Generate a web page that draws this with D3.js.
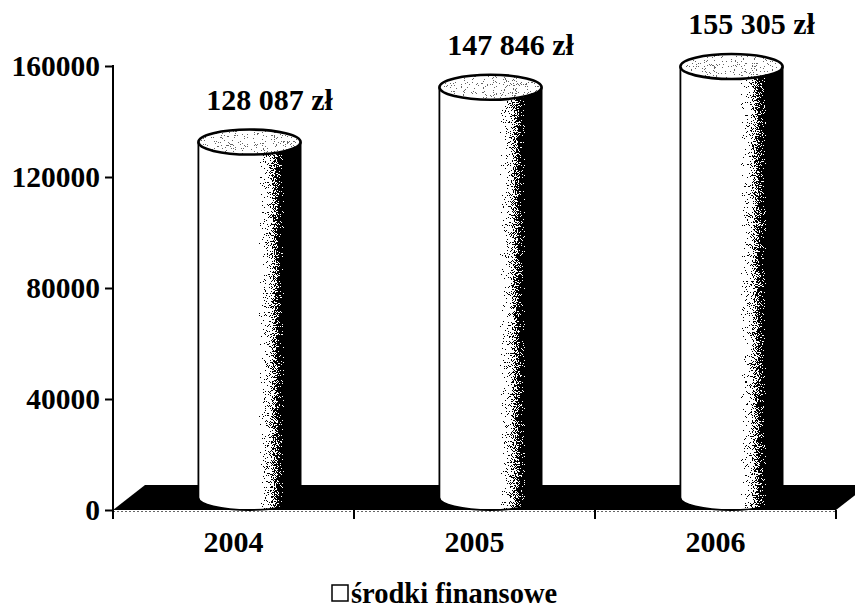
<!DOCTYPE html>
<html>
<head>
<meta charset="utf-8">
<script src="https://cdn.jsdelivr.net/npm/d3@7"></script>
<style>
  html, body { margin: 0; padding: 0; background: #fff; }
  svg { display: block; }
  text { font-family: "Liberation Serif", "Times New Roman", serif; font-weight: bold; fill: #000; }
</style>
</head>
<body>
<script>
// Funds per year (PLN)
const years = ["2004", "2005", "2006"];
const amounts = [128087, 147846, 155305];
const amountLabels = ["128 087 zł", "147 846 zł", "155 305 zł"];
const yTicks = [0, 40000, 80000, 120000, 160000];
const legendLabel = "środki finansowe";

const W = 855, H = 608;
const plot = { left: 113, right: 836, base: 510, top: 66 };
const depth = { dx: 32, dy: -25 };   // oblique depth of the floor

const svg = d3.select("body").append("svg")
  .attr("width", W).attr("height", H);

const x = d3.scaleBand().domain(years).range([plot.left, plot.right]).padding(0);
const y = d3.scaleLinear().domain([0, 160000]).range([plot.base, plot.top]);

const rx = x.bandwidth() * 0.212;
const ry = -depth.dy / 2;

// ---- defs: side shading + stipple filter
const defs = svg.append("defs");

const side = defs.append("linearGradient").attr("id", "side")
  .attr("x1", 0).attr("y1", 0).attr("x2", 1).attr("y2", 0);
[[0, "#fff"], [0.56, "#fff"], [0.63, "#e6e6e6"], [0.71, "#a9a9a9"], [0.78, "#555"],
 [0.85, "#000"], [1, "#000"]]
  .forEach(([o, c]) => side.append("stop").attr("offset", o).attr("stop-color", c));

const lid = defs.append("linearGradient").attr("id", "lid")
  .attr("x1", 0).attr("y1", 0).attr("x2", 1).attr("y2", 0);
[[0, "#d8d8d8"], [0.6, "#d2d2d2"], [1, "#c6c6c6"]]
  .forEach(([o, c]) => lid.append("stop").attr("offset", o).attr("stop-color", c));

function stippleFilter(id, seed) {
  const f = defs.append("filter").attr("id", id)
    .attr("x", 0).attr("y", 0).attr("width", 1).attr("height", 1)
    .attr("color-interpolation-filters", "sRGB");
  f.append("feTurbulence").attr("type", "fractalNoise")
    .attr("baseFrequency", 1.1).attr("numOctaves", 2).attr("seed", seed).attr("result", "n");
  f.append("feColorMatrix").attr("in", "n").attr("type", "matrix")
    .attr("values", "1 0 0 0 0  1 0 0 0 0  1 0 0 0 0  0 0 0 0 1").attr("result", "ng");
  const st = f.append("feComponentTransfer").attr("in", "ng").attr("result", "ns");
  ["feFuncR", "feFuncG", "feFuncB"].forEach(fn =>
    st.append(fn).attr("type", "linear").attr("slope", 2.2).attr("intercept", -0.6));
  f.append("feComposite").attr("in", "SourceGraphic").attr("in2", "ns")
    .attr("operator", "arithmetic")
    .attr("k1", 0).attr("k2", 1).attr("k3", 0.9).attr("k4", -0.45).attr("result", "sum");
  const th = f.append("feComponentTransfer").attr("in", "sum").attr("result", "dots");
  ["feFuncR", "feFuncG", "feFuncB"].forEach(fn =>
    th.append(fn).attr("type", "discrete").attr("tableValues", "0 1"));
  f.append("feComposite").attr("in", "dots").attr("in2", "SourceGraphic").attr("operator", "in");
}
stippleFilter("stipSide", 7);
stippleFilter("stipLid", 19);

// ---- floor
const floor = [
  [plot.left, plot.base],
  [plot.right, plot.base],
  [plot.right + depth.dx, plot.base + depth.dy],
  [plot.left + depth.dx, plot.base + depth.dy]
];
svg.append("path")
  .attr("d", d3.line()(floor) + "Z")
  .attr("fill", "#000");

// x axis line (front edge of the floor) and category ticks
svg.append("line")
  .attr("x1", plot.left).attr("x2", plot.right)
  .attr("y1", plot.base + 1.5).attr("y2", plot.base + 1.5)
  .attr("stroke", "#666").attr("stroke-width", 1).attr("stroke-dasharray", "2,2");

const boundaries = years.map(d => x(d) + x.bandwidth()).concat([plot.left]);
svg.append("g").selectAll("line").data(boundaries).join("line")
  .attr("x1", d => d).attr("x2", d => d)
  .attr("y1", plot.base).attr("y2", plot.base + 9)
  .attr("stroke", "#000").attr("stroke-width", 2);

// ---- cylinders
const bars = svg.append("g").selectAll("g")
  .data(years.map((d, i) => ({ year: d, value: amounts[i], label: amountLabels[i] })))
  .join("g");

const cx = d => x(d.year) + x.bandwidth() / 2 + depth.dx / 2;
const bottomY = () => plot.base + depth.dy / 2;
const topY = d => y(d.value) + depth.dy / 2;

function bodyPath(d) {
  const c = cx(d), t = topY(d), b = bottomY();
  return `M${c - rx},${t} L${c - rx},${b} A${rx},${ry} 0 0 0 ${c + rx},${b} L${c + rx},${t} Z`;
}

bars.append("path")
  .attr("d", bodyPath)
  .attr("fill", "url(#side)")
  .attr("filter", "url(#stipSide)");

bars.append("path")
  .attr("d", d => {
    const c = cx(d), t = topY(d), b = bottomY();
    return `M${c - rx},${t} L${c - rx},${b} A${rx},${ry} 0 0 0 ${c + rx},${b} L${c + rx},${t}`;
  })
  .attr("fill", "none").attr("stroke", "#000").attr("stroke-width", 1.8);

bars.append("ellipse")
  .attr("cx", cx).attr("cy", topY)
  .attr("rx", rx).attr("ry", ry)
  .attr("fill", "#fff");

bars.append("ellipse")
  .attr("cx", cx).attr("cy", topY)
  .attr("rx", rx).attr("ry", ry)
  .attr("fill", "url(#lid)")
  .attr("filter", "url(#stipLid)")
  .attr("opacity", 0.6);

bars.append("ellipse")
  .attr("cx", cx).attr("cy", topY)
  .attr("rx", rx).attr("ry", ry)
  .attr("fill", "none").attr("stroke", "#000").attr("stroke-width", 2.6);

bars.append("text")
  .attr("x", d => cx(d) + 20)
  .attr("y", d => y(d.value) - 45)
  .attr("text-anchor", "middle")
  .attr("font-size", 30)
  .text(d => d.label);

// ---- y axis
const yAxis = svg.append("g")
  .attr("transform", `translate(${plot.left},0)`)
  .call(d3.axisLeft(y).tickValues(yTicks).tickSize(8).tickSizeOuter(0)
    .tickPadding(5).tickFormat(d3.format("d")));
yAxis.select(".domain").remove();
yAxis.append("line")
  .attr("x1", 0).attr("x2", 0)
  .attr("y1", y(160000) - 1).attr("y2", plot.base + 9)
  .attr("stroke", "#000").attr("stroke-width", 2);
yAxis.selectAll(".tick line").attr("stroke", "#000").attr("stroke-width", 2);
yAxis.selectAll(".tick text")
  .attr("font-size", 29.5)
  .style("font-family", "'Liberation Serif', 'Times New Roman', serif")
  .style("font-weight", "bold")
  .attr("fill", "#000");

// ---- category labels
svg.append("g").selectAll("text").data(years).join("text")
  .attr("x", d => x(d) + x.bandwidth() / 2)
  .attr("y", 552)
  .attr("text-anchor", "middle")
  .attr("font-size", 30)
  .text(d => d);

// ---- legend
const legend = svg.append("g").attr("transform", "translate(332,603)");
legend.append("rect")
  .attr("x", 0).attr("y", -18).attr("width", 16).attr("height", 16)
  .attr("fill", "#fff").attr("stroke", "#000").attr("stroke-width", 1.5);
legend.append("text")
  .attr("x", 19).attr("y", 0)
  .attr("font-size", 28.5)
  .text(legendLabel);
</script>
</body>
</html>
